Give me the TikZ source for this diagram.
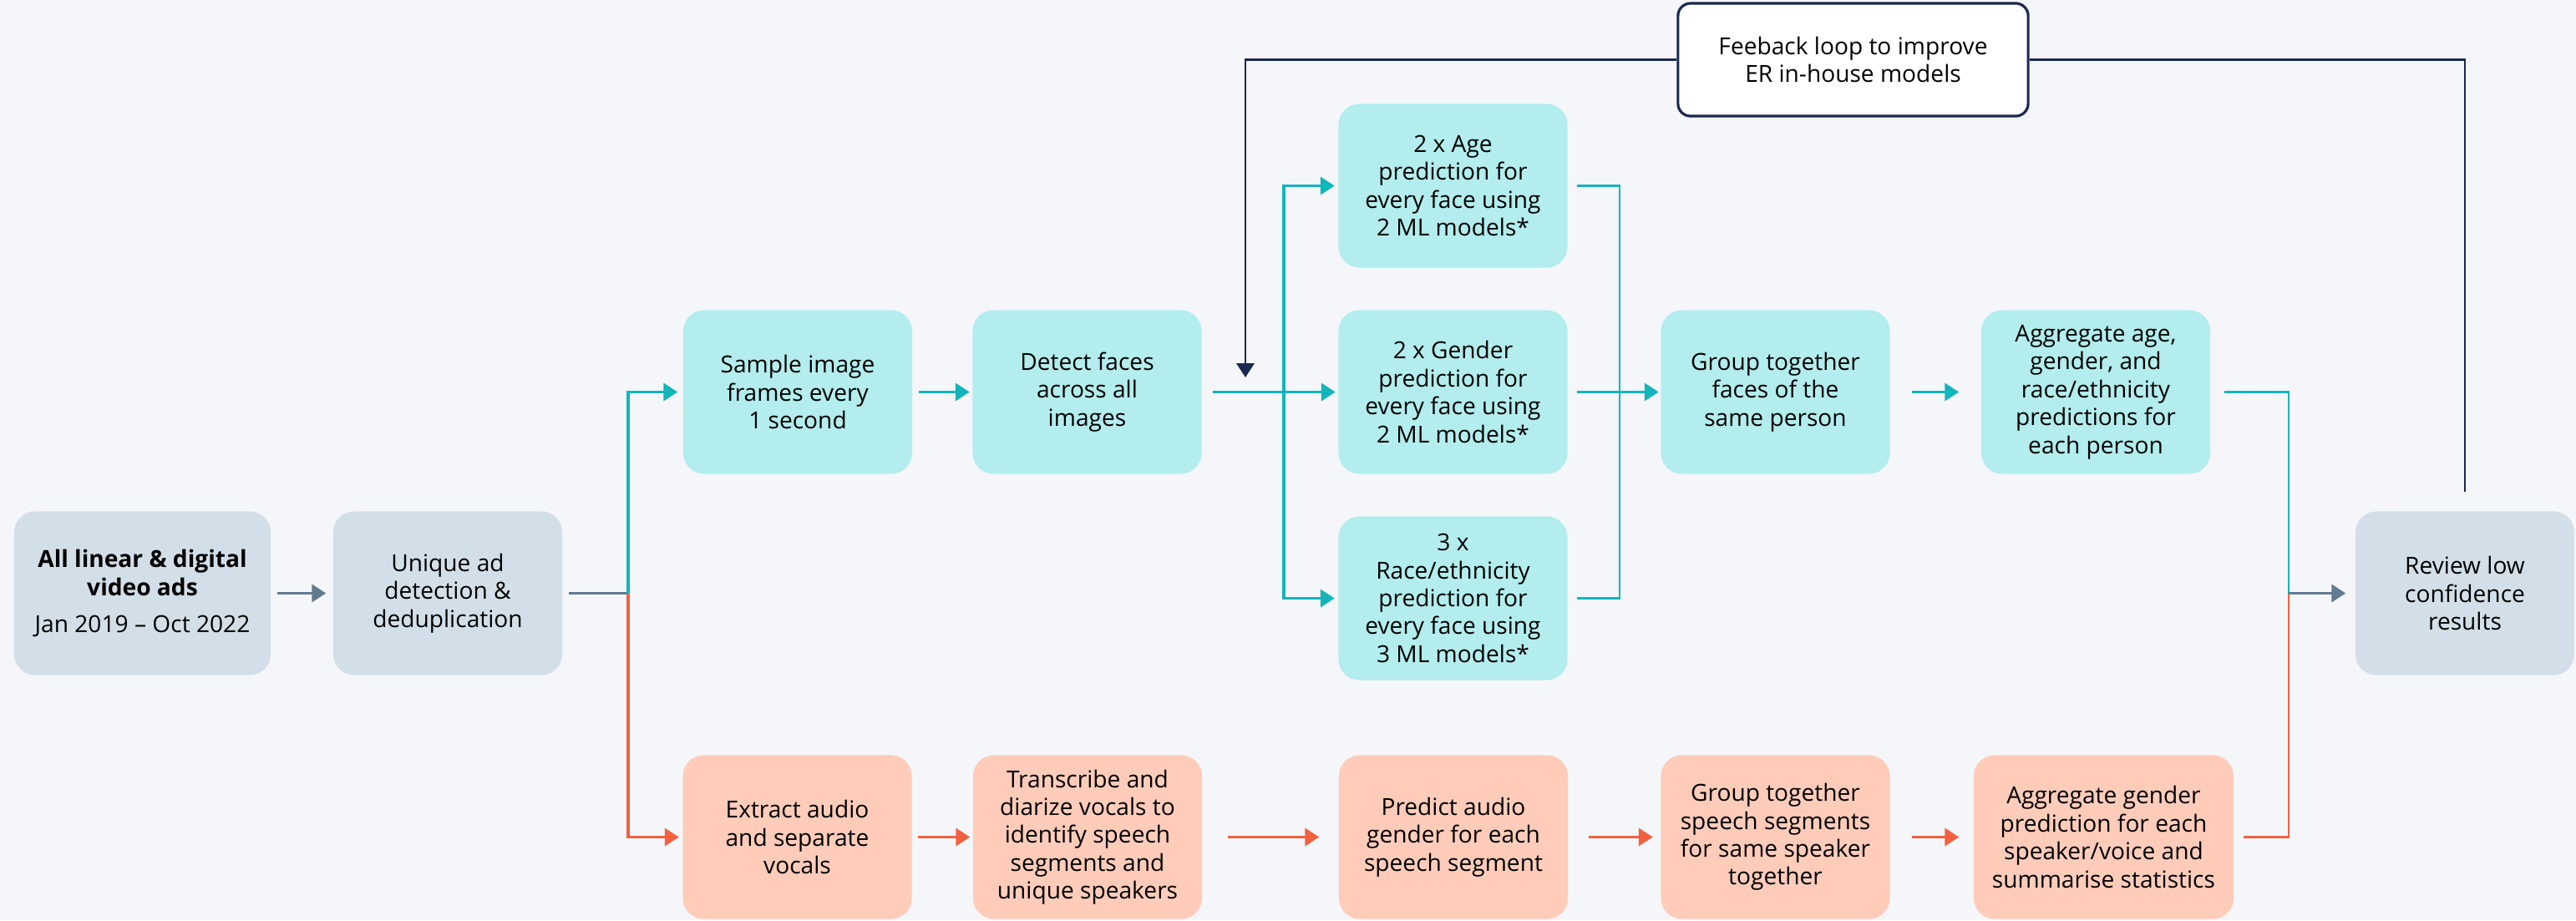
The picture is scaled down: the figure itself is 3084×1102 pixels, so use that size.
\documentclass[tikz,border=0pt]{standalone}
\usepackage{fontspec}
\setmainfont{Open Sans}
\usetikzlibrary{arrows.meta}
\definecolor{bgcol}{HTML}{F5F6FA}
\definecolor{greyfill}{HTML}{D3DFE8}
\definecolor{greyline}{HTML}{637B90}
\definecolor{tealfill}{HTML}{B3EDED}
\definecolor{tealline}{HTML}{12B5BA}
\definecolor{orangefill}{HTML}{FFCCBA}
\definecolor{orangeline}{HTML}{F3603F}
\definecolor{navyline}{HTML}{1B2950}
\begin{document}
\begin{tikzpicture}
[x=0.01cm,y=-0.01cm,>={Triangle[length=4.8pt,width=6pt]},
box/.style = {rounded corners=0.25cm, minimum width=2.74cm, minimum height=1.96cm, align=center, inner sep=2pt, font=\fontsize{8}{9.5}\selectfont},
greybox/.style = {box, fill=greyfill},
tealbox/.style = {box, fill=tealfill},
orangebox/.style = {box, fill=orangefill},
greyarrow/.style = {->, draw=greyline, line width=0.9pt},
greylink/.style = {draw=greyline, line width=0.9pt},
tealarrow/.style = {->, draw=tealline, line width=0.9pt},
teallink/.style = {draw=tealline, line width=0.7pt},
orangearrow/.style = {->, draw=orangeline, line width=0.9pt},
orangelink/.style = {draw=orangeline, line width=0.7pt},
looplink/.style = {draw=navyline, line width=0.8pt},]
\path[use as bounding box, fill=bgcol] (0,0) rectangle (3084,1102);
\node (ads) at (170.5,710.5)[greybox, minimum width=3.07cm] {\textbf{All linear \& digital}\\\textbf{video ads}\\[3pt]Jan 2019 – Oct 2022};
\node (uniq) at (536,710.5)[greybox] {Unique ad\\detection \&\\deduplication};
\node (sample) at (955,469.5)[tealbox] {Sample image\\frames every\\1 second};
\node (detect) at (1301.5,469.5)[tealbox] {Detect faces\\across all\\images};
\node (age) at (1739.5,222.5)[tealbox] {2 x Age\\prediction for\\every face using\\2 ML models*};
\node (gender) at (1739.5,469.5)[tealbox] {2 x Gender\\prediction for\\every face using\\2 ML models*};
\node (race) at (1739.5,716.5)[tealbox] {3 x\\Race/ethnicity\\prediction for\\every face using\\3 ML models*};
\node (groupf) at (2125.5,469.5)[tealbox] {Group together\\faces of the\\same person};
\node (aggf) at (2509,469.5)[tealbox] {Aggregate age,\\gender, and\\race/ethnicity\\predictions for\\each person};
\node (review) at (2951,710.5)[greybox, minimum width=2.62cm] {Review low\\confidence\\results};
\node (extract) at (954.5,1002.5)[orangebox] {Extract audio\\and separate\\vocals};
\node (transcribe) at (1302,1002.5)[orangebox] {Transcribe and\\diarize vocals to\\identify speech\\segments and\\unique speakers};
\node (predict) at (1740,1002.5)[orangebox] {Predict audio\\gender for each\\speech segment};
\node (groups) at (2125.5,1002.5)[orangebox] {Group together\\speech segments\\for same speaker\\together};
\node (aggs) at (2518.5,1002.5)[orangebox, minimum width=3.11cm] {Aggregate gender\\prediction for each\\speaker/voice and\\summarise statistics};
\coordinate (split) at (752,710.5);
\coordinate (fork) at (1537,469.5);
\coordinate (merge) at (1939,469.5);
\coordinate (join) at (2740,710.5);
\coordinate (loopin) at (1491,452);
% input and split
\draw[greyarrow, shorten <=0.07cm, shorten >=0.08cm] (ads)--(uniq);
\draw[greylink, shorten <=0.07cm] (uniq)--(split);
\draw[tealarrow, shorten >=0.06cm] (split) |- (sample);
\draw[orangearrow, shorten >=0.04cm] (split) |- (extract);
% face branch
\draw[tealarrow, shorten <=0.07cm, shorten >=0.03cm] (sample)--(detect);
\draw[tealarrow, shorten <=0.13cm, shorten >=0.03cm] (detect)--(gender);
\draw[tealarrow, shorten >=0.04cm] (fork) |- (age);
\draw[tealarrow, shorten >=0.04cm] (fork) |- (race);
\draw[teallink, shorten <=0.11cm] (age) -| (merge);
\draw[teallink, shorten <=0.11cm] (race) -| (merge);
\draw[tealarrow, shorten <=0.11cm, shorten >=0.02cm] (gender)--(groupf);
\draw[tealarrow, shorten <=0.26cm, shorten >=0.26cm] (groupf)--(aggf);
\draw[teallink, shorten <=0.16cm] (aggf) -| (join);
% audio branch
\draw[orangearrow, shorten <=0.07cm, shorten >=0.03cm] (extract)--(transcribe);
\draw[orangearrow, shorten <=0.30cm, shorten >=0.23cm] (transcribe)--(predict);
\draw[orangearrow, shorten <=0.24cm, shorten >=0.09cm] (predict)--(groups);
\draw[orangearrow, shorten <=0.26cm, shorten >=0.17cm] (groups)--(aggs);
\draw[orangelink, shorten <=0.11cm] (aggs) -| (join);
\draw[greyarrow, shorten >=0.11cm] (join)--(review);
% feedback loop
\node (fb) at (2218.5,71.5)[draw=navyline, line width=0.9pt, fill=white, rounded corners=0.15cm, minimum width=4.19cm, minimum height=1.35cm, align=center, font=\fontsize{8}{9.5}\selectfont] {Feeback loop to improve\\ER in-house models};
\draw[looplink, shorten <=0.23cm] (review) |- (fb);
\draw[looplink, ->] (fb) -| (loopin);
\end{tikzpicture}
\end{document}
